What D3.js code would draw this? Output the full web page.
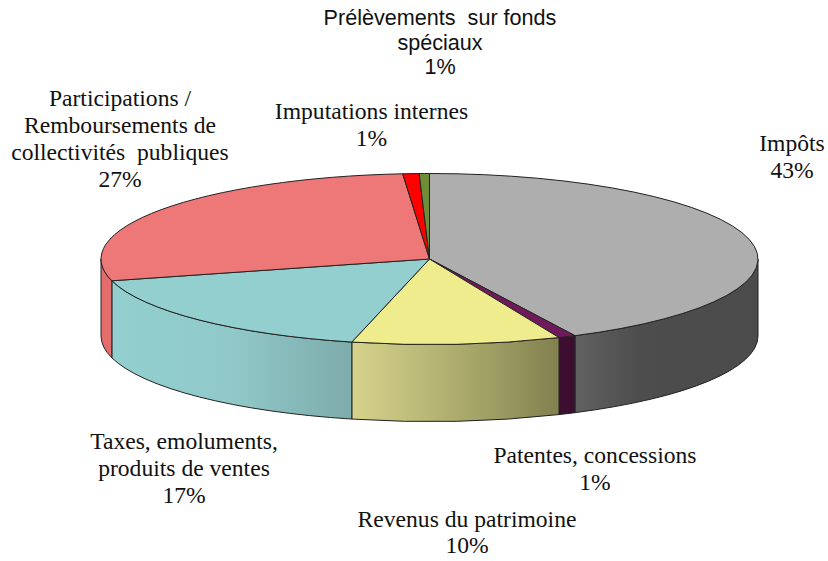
<!DOCTYPE html>
<html>
<head>
<meta charset="utf-8">
<script src="https://cdn.jsdelivr.net/npm/d3@7"></script>
<style>
  html, body { margin: 0; padding: 0; background: #fff; }
  text { font-family: "Liberation Serif", serif; font-size: 23.6px; fill: #111; }
  text.sans { font-family: "Liberation Sans", sans-serif; font-size: 21.6px; }
</style>
</head>
<body>
<div id="chart"></div>
<script>
// Slice shares as measured on the picture, clockwise from 12 o'clock
const categories = ["Impôts", "Patentes, concessions", "Revenus du patrimoine", "Taxes, emoluments, produits de ventes",
                    "Participations / Remboursements de collectivités publiques", "Imputations internes", "Prélèvements sur fonds spéciaux"];
const shares = [42.7, 0.85, 10.25, 17.1, 27.8, 0.8, 0.5];
const percentLabels = ["43%", "1%", "10%", "17%", "27%", "1%", "1%"];
const labelLines = [
    ["Impôts"],
    ["Patentes, concessions"],
    ["Revenus du patrimoine"],
    ["Taxes, emoluments,", "produits de ventes"],
    ["Participations /", "Remboursements de", "collectivités  publiques"],
    ["Imputations internes"],
    ["Prélèvements  sur fonds", "spéciaux"]
];

const topColors = ["#aeaeae", "#701a5c", "#eeec8c", "#93cfcf", "#ee7878", "#ff0000", "#6f8c38"];
// left, middle and right colour of the wall gradient
const wallColors = [["#616161", "#4d4d4d", "#4b4b4b"], ["#3c0e30", "#3c0e30", "#3c0e30"], ["#d6d38c", "#aead6e", "#82814f"],
                    ["#93cfcf", "#90c9c9", "#7eabab"], ["#e36d6d", "#e36d6d", "#e36d6d"], ["#c00000", "#c00000", "#c00000"],
                    ["#556b2a", "#556b2a", "#556b2a"]];

// Label anchors (middle of the text, first baseline) and line spacing
const labelAnchor = [[792, 151], [595, 463], [467, 527], [184, 449], [120, 106], [371.5, 119], [440, 25]];
const labelSpacing = [27, 27, 26, 27, 27, 27, 24.5];

const width = 828, height = 561;
const cx = 429.5, cy = 259, rx = 328.5, ry = 85.5, depth = 77;

const svg = d3.select("#chart").append("svg")
    .attr("width", width)
    .attr("height", height)
    .style("display", "block");

const x = d3.scaleLinear().domain([-1, 1]).range([cx - rx, cx + rx]);
const y = d3.scaleLinear().domain([-1, 1]).range([cy - ry, cy + ry]);

const slices = d3.pie().sort(null).value(d => d)(shares);
const arc = d3.arc().innerRadius(0).outerRadius(rx);

// Wall gradients
const defs = svg.append("defs");
wallColors.forEach((c, i) => {
    const g = defs.append("linearGradient").attr("id", `wall-${i}`);
    g.append("stop").attr("offset", "0%").attr("stop-color", c[0]);
    g.append("stop").attr("offset", i === 0 ? "35%" : "50%").attr("stop-color", c[1]);
    g.append("stop").attr("offset", "100%").attr("stop-color", c[2]);
});

// Only the front half of the rim is visible
const walls = svg.append("g");
slices.forEach((s, i) => {
    const a0 = Math.max(s.startAngle, Math.PI / 2);
    const a1 = Math.min(s.endAngle, Math.PI * 1.5);
    if (a1 <= a0) return;
    const x0 = x(Math.sin(a0)), y0 = y(-Math.cos(a0));
    const x1 = x(Math.sin(a1)), y1 = y(-Math.cos(a1));
    walls.append("path")
        .attr("d", `M${x0},${y0} A${rx},${ry} 0 0 1 ${x1},${y1} L${x1},${y1 + depth} A${rx},${ry} 0 0 0 ${x0},${y0 + depth} Z`)
        .attr("fill", `url(#wall-${i})`)
        .attr("stroke", "#222")
        .attr("stroke-width", 1)
        .attr("stroke-linejoin", "round");
});

// Top face: a flat pie squeezed into the ellipse
svg.append("g")
    .attr("transform", `translate(${cx},${cy}) scale(1,${ry / rx})`)
    .selectAll("path")
    .data(slices)
    .enter()
    .append("path")
    .attr("d", arc)
    .attr("fill", (d, i) => topColors[i])
    .attr("stroke", "#222")
    .attr("stroke-width", 1)
    .attr("stroke-linejoin", "round")
    .attr("vector-effect", "non-scaling-stroke");

// Labels (the last one is set in a sans face in the picture)
categories.forEach((name, i) => {
    const t = svg.append("text")
        .attr("class", i === 6 ? "sans" : null)
        .attr("text-anchor", "middle")
        .style("white-space", "pre");
    labelLines[i].concat(percentLabels[i]).forEach((line, j) => {
        t.append("tspan")
            .attr("x", labelAnchor[i][0])
            .attr("y", labelAnchor[i][1] + j * labelSpacing[i])
            .text(line);
    });
});
</script>
</body>
</html>
